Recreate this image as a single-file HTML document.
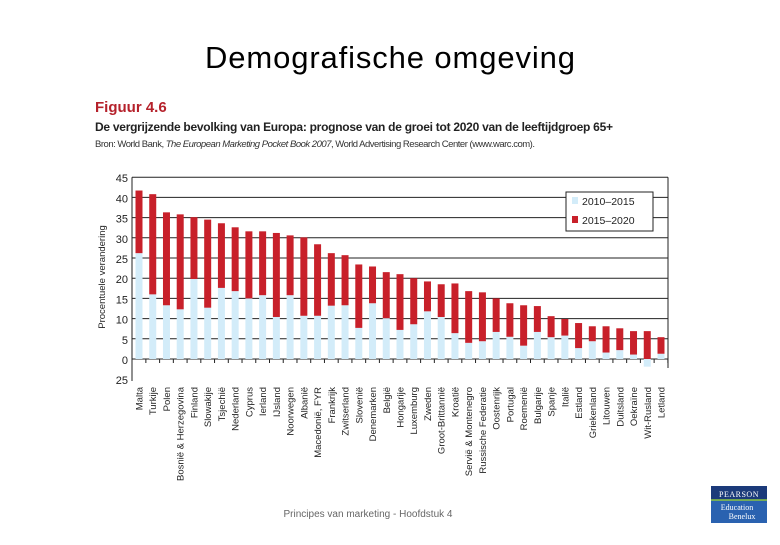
<!DOCTYPE html>
<html><head><meta charset="utf-8"><style>
body{margin:0;width:780px;height:540px;background:#fff;overflow:hidden;font-family:"Liberation Sans",sans-serif}
</style></head><body>
<svg id="c" width="780" height="540" xmlns="http://www.w3.org/2000/svg">
<text x="390" y="68" text-anchor="middle" font-size="31" fill="#000" textLength="370">Demografische omgeving</text>
<text x="95" y="112" font-size="15" font-weight="bold" fill="#b5212b">Figuur 4.6</text>
<text x="95" y="131" font-size="12" font-weight="bold" fill="#222" textLength="518">De vergrijzende bevolking van Europa: prognose van de groei tot 2020 van de leeftijdgroep 65+</text>
<text x="95" y="147" font-size="9.5" fill="#333" textLength="440">Bron: World Bank, <tspan font-style="italic">The European Marketing Pocket Book 2007</tspan>, World Advertising Research Center (www.warc.com).</text>
<g id="plot"></g>
<text x="368" y="517" text-anchor="middle" font-size="10" fill="#666">Principes van marketing - Hoofdstuk 4</text>
<g>
<rect x="711" y="486" width="56" height="37" fill="#1b3a7a"/>
<rect x="711" y="500" width="56" height="23" fill="#2a62b0"/>
<line x1="711" y1="500" x2="767" y2="500" stroke="#8cc63f" stroke-width="1.5"/>
<text x="739" y="497" text-anchor="middle" font-size="8" fill="#fff" font-family="Liberation Serif,serif" letter-spacing="0.5">PEARSON</text>
<text x="737" y="510" text-anchor="middle" font-size="8" fill="#fff" font-family="Liberation Serif,serif">Education</text>
<text x="742" y="519" text-anchor="middle" font-size="8" fill="#fff" font-family="Liberation Serif,serif">Benelux</text>
</g>
</svg>
<script>
const countries=["Malta","Turkije","Polen","Bosnië & Herzegovina","Finland","Slowakije","Tsjechië","Nederland","Cyprus","Ierland","IJsland","Noorwegen","Albanië","Macedonië, FYR","Frankrijk","Zwitserland","Slovenië","Denemarken","België","Hongarije","Luxemburg","Zweden","Groot-Brittannië","Kroatië","Servië & Montenegro","Russische Federatie","Oostenrijk","Portugal","Roemenië","Bulgarije","Spanje","Italië","Estland","Griekenland","Litouwen","Duitsland","Oekraïne","Wit-Rusland","Letland"];
const s2010=[26.2,16.0,13.3,12.3,19.8,12.7,17.6,16.8,15.0,15.8,10.4,15.8,10.7,10.7,13.2,13.3,7.7,13.8,10.1,7.2,8.6,11.8,10.4,6.4,4.0,4.4,6.7,5.5,3.3,6.7,5.4,5.8,2.7,4.4,1.6,2.2,1.1,-1.9,1.3];
const total2020=[41.7,40.8,36.3,35.8,35.1,34.5,33.6,32.6,31.6,31.6,31.2,30.6,30.1,28.4,26.2,25.7,23.4,22.9,21.5,21.0,20.0,19.2,18.5,18.7,16.8,16.5,15.0,13.8,13.3,13.1,10.6,9.9,8.9,8.1,8.1,7.6,6.9,6.9,5.4];
const yTicks=[0,5,10,15,20,25,30,35,40,45];
const NS="http://www.w3.org/2000/svg";
const g=document.getElementById('plot');
const X0=132,X1=668,Y0=359,PPU=4.04;
const n=countries.length;
const step=(661-139)/(n-1);
const xs=i=>139+i*step;
const ys=v=>Y0-v*PPU;
function mk(t,a){const e=document.createElementNS(NS,t);for(const k in a)e.setAttribute(k,a[k]);g.appendChild(e);return e;}
yTicks.forEach(t=>{
 const l=mk('line',{x1:X0,x2:X1,y1:ys(t),y2:ys(t),stroke:'#222','stroke-width':1});
 
 
 const tx=mk('text',{x:X0-4,y:ys(t)+5,'text-anchor':'end','font-size':11,fill:'#222'});
 tx.textContent=t;
 
 
});
const t25=mk('text',{x:X0-4,y:384,'text-anchor':'end','font-size':11,fill:'#222'});t25.textContent='25';


const ax=mk('line',{x1:X0,x2:X0,y1:ys(45),y2:381,stroke:'#222','stroke-width':1});


const rb=mk('line',{x1:X1,x2:X1,y1:ys(45),y2:368,stroke:'#222','stroke-width':1});


const yt=mk('text',{x:0,y:0,'text-anchor':'middle','font-size':9.5,fill:'#222',transform:'translate(105,277) rotate(-90)'});
yt.textContent='Procentuele verandering';


countries.forEach((c,i)=>{
 const x=xs(i),a=s2010[i],tot=total2020[i],w=7;
 const b=mk('rect',{x:x-w/2,y:ys(Math.max(a,0)),width:w,height:Math.abs(a)*PPU,fill:'#d3ecf9'});
 
 
 const lo=Math.max(a,0);
 const r=mk('rect',{x:x-w/2,y:ys(tot),width:w,height:(tot-lo)*PPU,fill:'#c8202a'});
 
 
 const tk=mk('line',{x1:x+step/2,x2:x+step/2,y1:Y0,y2:Y0+4,stroke:'#222'});
 
 
 const lb=mk('text',{x:0,y:0,'text-anchor':'end','font-size':9.5,fill:'#222',transform:`translate(${x+3.5},387) rotate(-90)`});
 lb.textContent=c;
 
 
});
const lg=mk('rect',{x:566,y:192,width:87,height:39,fill:'#fff',stroke:'#222'});


[['#d3ecf9','2010–2015',201],['#c8202a','2015–2020',220]].forEach(([col,t,y],k)=>{
 const s=mk('rect',{x:572,y:y-4,width:6,height:7,fill:col});
 
 
 const tx=mk('text',{x:582,y:y+4,'font-size':10.5,fill:'#222'});tx.textContent=t;
 
 
});
</script>
</body></html>
